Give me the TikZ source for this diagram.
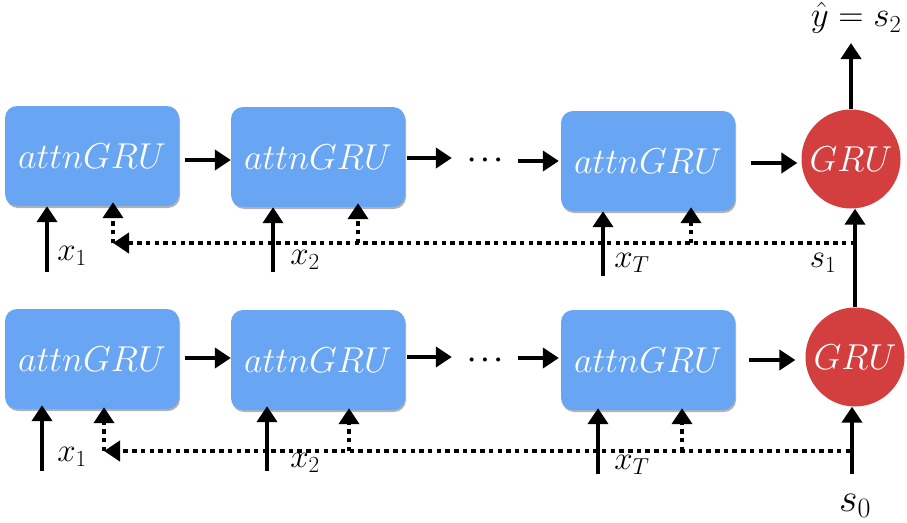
\RequirePackage{fix-cm}
\documentclass[tikz,border=0pt]{standalone}
\usetikzlibrary{arrows.meta,shadows}
\definecolor{boxblue}{HTML}{68A5F2}
\definecolor{grured}{HTML}{D33F3E}
\begin{document}
\begin{tikzpicture}[x=1pt,y=-1pt,
  cell/.style={rectangle, rounded corners=12pt, fill=boxblue, minimum width=174pt, minimum height=100pt, inner sep=0pt, text=white, font=\fontsize{36}{40}\selectfont,
    drop shadow={shadow xshift=1pt, shadow yshift=-2pt, opacity=0.3, fill=black}},
  gru/.style={circle, fill=grured, minimum size=99pt, inner sep=0pt, text=white, font=\fontsize{36}{40}\selectfont},
  dotsnode/.style={minimum width=62pt, inner sep=0pt, font=\fontsize{26}{28}\selectfont\boldmath},
  lab/.style={inner sep=0pt, font=\fontsize{33}{36}\selectfont},
  arr/.style={line width=4pt, -{Triangle[length=16pt,width=20pt]}},
  dotarr/.style={line width=4pt, dash pattern=on 4.5pt off 4.2pt, -{Triangle[length=16pt,width=20pt]}}]
\useasboundingbox (0,0) rectangle (907,522);

% ---------- top row ----------
\node[cell] (a1) at (92,156) {$attnGRU$};
\node[cell] (a2) at (318,157) {$attnGRU$};
\node[cell] (a3) at (648,161) {$attnGRU$};
\node[gru] (g1) at (851,159) {$GRU$};
\node[dotsnode] (d1) at (485,160) {$\cdots$};

\draw[arr] ([xshift=6pt,yshift=-4pt]a1.east) -- ([yshift=-3pt]a2.west);
\draw[arr] ([xshift=2pt,yshift=-1pt]a2.east) -- ([xshift=-2pt,yshift=2pt]d1.west);
\draw[arr] ([xshift=2pt,yshift=-1pt]d1.east) -- ([xshift=-2pt,yshift=0pt]a3.west);
\draw[arr] ([xshift=16pt,yshift=-2pt]a3.east) -- ([xshift=-4pt,yshift=-4pt]g1.west);

\coordinate (yout) at (851,43);
\draw[arr] (g1.north) -- (yout);
\node[inner sep=0pt, font=\fontsize{35}{38}\selectfont] (yhat) at (856,18) {$\hat{y}=s_2$};

\coordinate (i11) at (47,272);
\coordinate (i12) at (273,272);
\coordinate (i13) at (603,276);
\draw[arr] (i11) -- (i11 |- a1.south);
\draw[arr] (i12) -- (i12 |- a2.south);
\draw[arr] (i13) -- (i13 |- a3.south);
\node[lab] (x11) at (72,256) {$x_1$};
\node[lab] (x12) at (305,260) {$x_2$};
\node[lab] (x13) at (632,263) {$x_T$};

\coordinate (h1) at (855,243);
\coordinate (f11) at (113,243);
\coordinate (f12) at (358,243);
\coordinate (f13) at (691,243);
\draw[dotarr] (h1) -- (f11);
\draw[dotarr] (f11) -- ([yshift=4pt]f11 |- a1.south);
\draw[dotarr] (f12) -- ([yshift=4pt]f12 |- a2.south);
\draw[dotarr] (f13) -- ([yshift=4pt]f13 |- a3.south);
\node[lab] (s1) at (823,263) {$s_1$};

% ---------- bottom row ----------
\node[cell] (b1) at (92,359) {$attnGRU$};
\node[cell] (b2) at (318,360) {$attnGRU$};
\node[cell] (b3) at (648,360) {$attnGRU$};
\node[gru] (g0) at (855,357) {$GRU$};
\node[dotsnode] (d0) at (485,360) {$\cdots$};

\draw[arr] ([xshift=6pt,yshift=1pt]b1.east) -- ([yshift=2pt]b2.west);
\draw[arr] ([xshift=2pt,yshift=3pt]b2.east) -- ([xshift=-2pt,yshift=3pt]d0.west);
\draw[arr] ([xshift=2pt,yshift=2pt]d0.east) -- ([xshift=-2pt,yshift=2pt]b3.west);
\draw[arr] ([xshift=14pt,yshift=0pt]b3.east) -- ([xshift=-10pt,yshift=-3pt]g0.west);

\draw[arr] (g0.north) -- (g0.north |- g1.south);

\coordinate (i01) at (42,471);
\coordinate (i02) at (267,471);
\coordinate (i03) at (598,474);
\coordinate (i0s) at (852,474);
\draw[arr] (i01) -- ([yshift=4pt]i01 |- b1.south);
\draw[arr] (i02) -- ([yshift=4pt]i02 |- b2.south);
\draw[arr] (i03) -- ([yshift=2pt]i03 |- b3.south);
\draw[arr] (i0s) -- (i0s |- g0.south);
\node[lab] (x01) at (72,457) {$x_1$};
\node[lab] (x02) at (305,463) {$x_2$};
\node[lab] (x03) at (632,465) {$x_T$};
\node[inner sep=0pt, font=\fontsize{40}{44}\selectfont] (s0) at (855,506) {$s_0$};

\coordinate (h0) at (850,451);
\coordinate (f01) at (104,451);
\coordinate (f02) at (349,451);
\coordinate (f03) at (682,451);
\draw[dotarr] (h0) -- (f01);
\draw[dotarr] (f01) -- ([yshift=2pt]f01 |- b1.south);
\draw[dotarr] (f02) -- ([yshift=2pt]f02 |- b2.south);
\draw[dotarr] (f03) -- ([yshift=2pt]f03 |- b3.south);
\end{tikzpicture}
\end{document}
